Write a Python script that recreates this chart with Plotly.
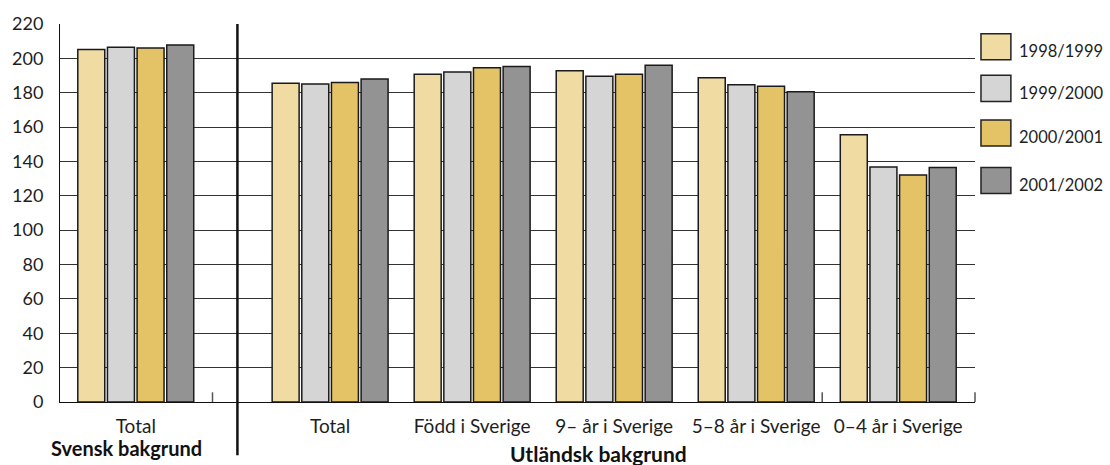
import plotly.graph_objects as go

# ---------------- data ----------------
series_names = ["1998/1999", "1999/2000", "2000/2001", "2001/2002"]
series_colors = ["#F0DBA3", "#D5D5D5", "#E4C266", "#939393"]

svensk_categories = ["Total"]
utlandsk_categories = ["Total", "Född i Sverige", "9– år i Sverige",
                       "5–8 år i Sverige", "0–4 år i Sverige"]

svensk_1998_1999 = [205.1]
svensk_1999_2000 = [206.4]
svensk_2000_2001 = [206.1]
svensk_2001_2002 = [207.8]

utlandsk_1998_1999 = [185.5, 190.8, 192.8, 188.7, 155.5]
utlandsk_1999_2000 = [185.1, 192.1, 189.6, 184.6, 136.8]
utlandsk_2000_2001 = [185.9, 194.5, 190.8, 183.8, 132.1]
utlandsk_2001_2002 = [188.0, 195.3, 196.0, 180.6, 136.5]

group_titles = ["Svensk bakgrund", "Utländsk bakgrund"]
y_ticks = list(range(0, 221, 20))

svensk_series = [svensk_1998_1999, svensk_1999_2000, svensk_2000_2001, svensk_2001_2002]
utlandsk_series = [utlandsk_1998_1999, utlandsk_1999_2000, utlandsk_2000_2001, utlandsk_2001_2002]

# ---------------- layout helpers (pixel -> paper) ----------------
W, H = 1110, 465
L, R, T, B = 57, 975, 12, 402
PW, PH = R - L, B - T


def px_x(p):
    return (p - L) / PW


def px_y(p):
    return (B - p) / PH


FONT = "Lato, 'Open Sans', sans-serif"
TXT = "#1e1e1e"
split = px_x(235)

fig = go.Figure()
for name, col, sv, uv in zip(series_names, series_colors, svensk_series, utlandsk_series):
    fig.add_trace(go.Bar(x=svensk_categories, y=sv, name=name, xaxis="x", yaxis="y",
                         marker=dict(color=col, line=dict(color="#1a1a1a", width=1.5)),
                         showlegend=False))
    fig.add_trace(go.Bar(x=utlandsk_categories, y=uv, name=name, xaxis="x2", yaxis="y",
                         marker=dict(color=col, line=dict(color="#1a1a1a", width=1.5)),
                         showlegend=False))

axis_common = dict(type="category", showline=True, linecolor="#111", linewidth=1,
                   ticks="", showgrid=False, zeroline=False, ticklabelstandoff=7,
                   tickfont=dict(family=FONT, size=19, color=TXT), fixedrange=True)

shapes = []
annotations = []

# vertical separator between groups
shapes.append(dict(type="line", xref="paper", yref="paper", x0=split, x1=split,
                   y0=px_y(457), y1=1.0, line=dict(color="#111", width=2.5)))
# small inside ticks on the category axis
for tx in [210, 821.7, 975]:
    shapes.append(dict(type="line", xref="paper", yref="paper", x0=px_x(tx), x1=px_x(tx),
                       y0=0, y1=px_y(392), line=dict(color="#555", width=1.5)))

# group titles
annotations.append(dict(text="<b>" + group_titles[0] + "</b>", xref="paper", yref="paper",
                        x=px_x(124), y=px_y(449), xanchor="center", yanchor="middle",
                        showarrow=False, font=dict(family=FONT, size=20, color="#111")))
annotations.append(dict(text="<b>" + group_titles[1] + "</b>", xref="paper", yref="paper",
                        x=px_x(597.5), y=px_y(455), xanchor="center", yanchor="middle",
                        showarrow=False, font=dict(family=FONT, size=21, color="#111")))

# manual legend with large swatches
leg_tops = [22, 65, 111, 160]
for name, col, top in zip(series_names, series_colors, leg_tops):
    shapes.append(dict(type="rect", xref="paper", yref="paper",
                       x0=px_x(981), x1=px_x(1011), y0=px_y(top + 27), y1=px_y(top),
                       fillcolor=col, line=dict(color="#222", width=1.5)))
    annotations.append(dict(text=name, xref="paper", yref="paper",
                            x=px_x(1017), y=px_y(top + 18), xanchor="left", yanchor="middle",
                            showarrow=False, font=dict(family=FONT, size=16.5, color=TXT)))

fig.update_layout(
    width=W, height=H,
    margin=dict(l=L, r=W - R, t=T, b=H - B, pad=0),
    paper_bgcolor="white", plot_bgcolor="white",
    barmode="group", bargap=0.165, bargroupgap=0.09,
    showlegend=False,
    xaxis=dict(domain=[0, split], anchor="y", range=[-76 / 142.5, 102 / 142.5], **axis_common),
    xaxis2=dict(domain=[split, 1], anchor="y", range=[-93 / 142.5, 647 / 142.5], **axis_common),
    yaxis=dict(range=[0, 220], tickvals=y_ticks, showgrid=True, gridcolor="#333", gridwidth=1,
               showline=True, linecolor="#111", linewidth=1, ticks="", zeroline=False,
               ticklabelstandoff=12,
               tickfont=dict(family=FONT, size=18, color=TXT), fixedrange=True),
    shapes=shapes, annotations=annotations,
)

fig.write_html("out.html", config={"displayModeBar": False},
               post_script="document.body.style.margin='0';document.body.style.overflow='hidden';")
